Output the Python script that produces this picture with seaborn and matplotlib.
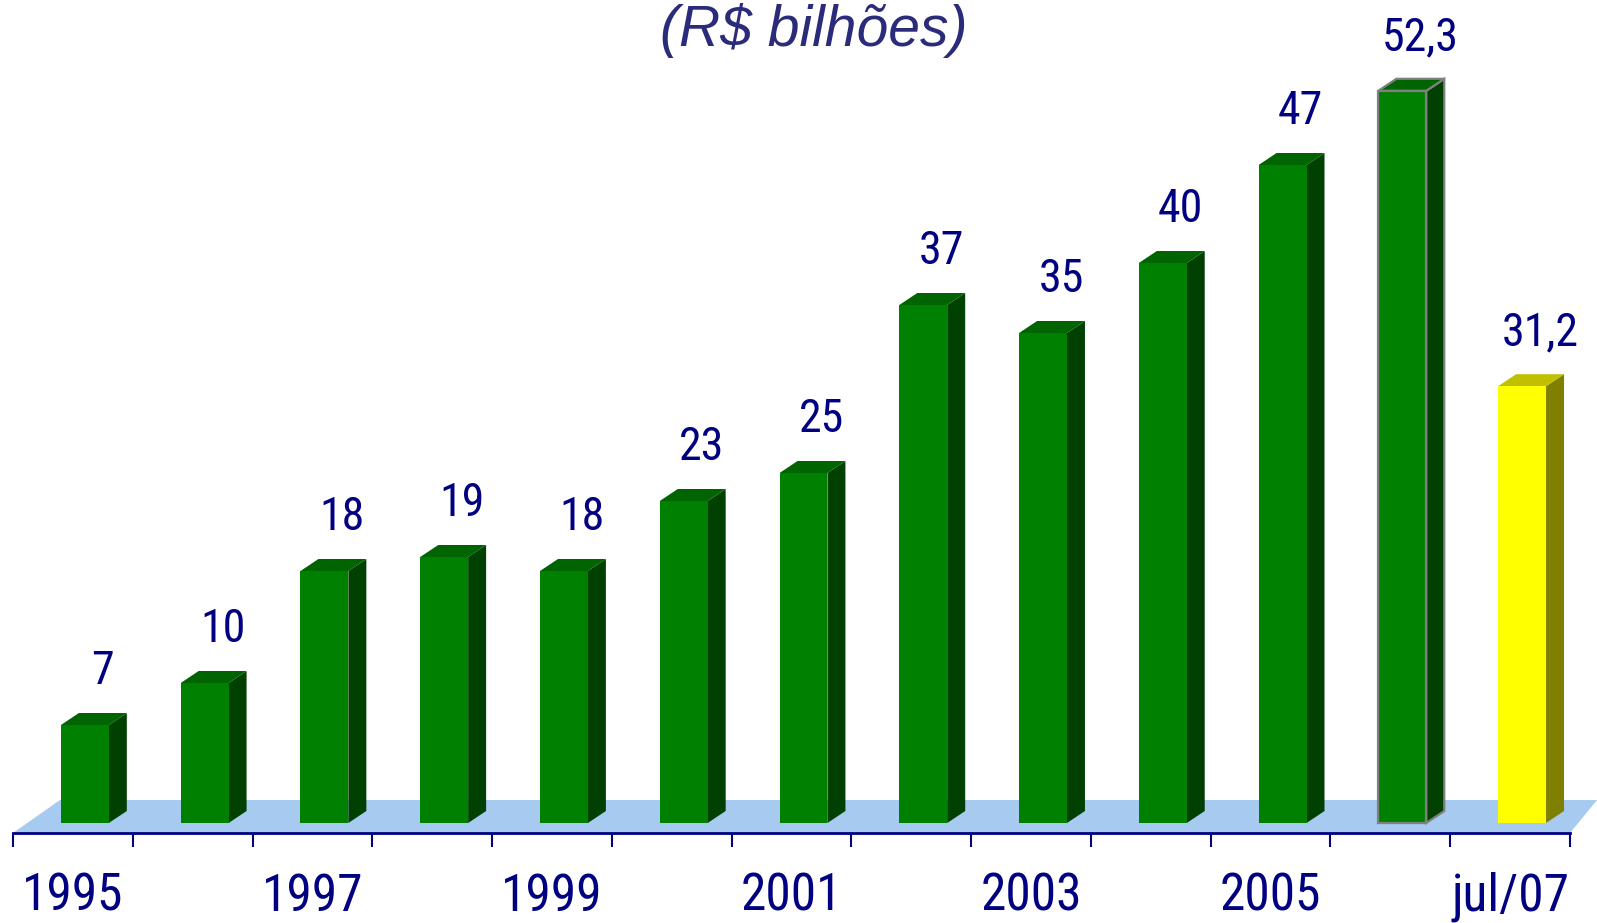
import matplotlib
matplotlib.use("Agg")
import matplotlib.pyplot as plt
import seaborn as sns
from matplotlib import font_manager
from matplotlib.patches import Polygon

# data
periods = ["1995", "1996", "1997", "1998", "1999", "2000", "2001",
           "2002", "2003", "2004", "2005", "2006", "jul/07"]
values = [7, 10, 18, 19, 18, 23, 25, 37, 35, 40, 47, 52.3, 31.2]
tick_labels = ["1995", "1997", "1999", "2001", "2003", "2005", "jul/07"]
title = "(R$ bilhões)"

# styles
front_colors = ["#008000"] * 12 + ["#FFFF00"]
side_colors = ["#004000"] * 12 + ["#808000"]
top_colors = ["#006400"] * 12 + ["#C0C000"]
outlined = "2006"
navy = "#000080"
floor_color = "#A6CAF0"

W, H = 1597, 923
PX_X = 119.8   # pixels per category
PX_Y = 14.0    # pixels per value unit
bar_dx, bar_dy = 18 / PX_X, 12 / PX_Y

installed = {f.name for f in font_manager.fontManager.ttflist}
narrow = "DejaVu Sans"
for cand in ["Roboto Condensed", "Barlow Semi Condensed", "Archivo Narrow",
             "Asap Condensed", "Liberation Sans Narrow"]:
    if cand in installed:
        narrow = cand
        break

sns.set_style("white")
plt.rcParams["font.family"] = [narrow, "DejaVu Sans"]
plt.rcParams["font.stretch"] = "condensed"

fig = plt.figure(figsize=(W / 100, H / 100), dpi=100)
ax = fig.add_axes([13 / W, (H - 833) / H, (1570 - 13) / W, 833 / H])

sns.barplot(x=periods, y=values, hue=periods, palette=front_colors,
            width=0.4, saturation=1, linewidth=0, legend=False, ax=ax, zorder=3)

x_lo = -0.6
y_lo = -10 / PX_Y
ax.set_xlim(x_lo, x_lo + len(periods))
ax.set_ylim(y_lo, y_lo + 833 / PX_Y)

# floor
back_y = 33 / PX_Y + y_lo
floor = Polygon([(x_lo, y_lo), (x_lo + 47 / PX_X, back_y),
                 (x_lo + len(periods) + 27 / PX_X, back_y),
                 (x_lo + len(periods), y_lo)],
                closed=True, facecolor=floor_color, edgecolor="none",
                zorder=1, clip_on=False)
ax.add_patch(floor)

# 3d faces + labels
for i, p in enumerate(ax.patches[:len(periods)]):
    x0, w, h = p.get_x(), p.get_width(), p.get_height()
    edge = "#808080" if periods[i] == outlined else "none"
    lw = 1.6 if periods[i] == outlined else 0
    p.set_edgecolor(edge)
    p.set_linewidth(lw)
    side = Polygon([(x0 + w, 0), (x0 + w + bar_dx, bar_dy),
                    (x0 + w + bar_dx, h + bar_dy), (x0 + w, h)],
                   closed=True, facecolor=side_colors[i], edgecolor=edge,
                   linewidth=lw, zorder=2)
    top = Polygon([(x0, h), (x0 + bar_dx, h + bar_dy),
                   (x0 + w + bar_dx, h + bar_dy), (x0 + w, h)],
                  closed=True, facecolor=top_colors[i], edgecolor=edge,
                  linewidth=lw, zorder=2)
    ax.add_patch(side)
    ax.add_patch(top)
    txt = f"{values[i]:g}".replace(".", ",")
    ax.text(x0 + w / 2 + bar_dx, h + 2.9, txt, ha="center", va="baseline",
            fontsize=33, color=navy, clip_on=False)

# axis
for s in ["top", "right", "left"]:
    ax.spines[s].set_visible(False)
ax.spines["bottom"].set_color(navy)
ax.spines["bottom"].set_linewidth(2)
ax.spines["bottom"].set_zorder(4)
ax.set_yticks([])
ax.set_xticks([x_lo + k for k in range(len(periods) + 1)])
ax.set_xticklabels([])
ax.tick_params(axis="x", which="major", bottom=True, length=10, width=1.5,
               color=navy, direction="out")
ax.set_xticks([periods.index(t) + x_lo + 0.5 for t in tick_labels], minor=True)
ax.set_xticklabels(tick_labels, minor=True, fontsize=37, color=navy)
ax.tick_params(axis="x", which="minor", bottom=True, length=0, pad=28)
ax.set_xlabel("")
ax.patch.set_alpha(0)

fig.text(814 / W, 1 - 46 / H, title, ha="center", va="baseline",
         fontsize=41, style="italic", color="#2b2b7b",
         family=["Liberation Sans", "DejaVu Sans"], stretch="normal")

fig.savefig("out.png", dpi=100)
